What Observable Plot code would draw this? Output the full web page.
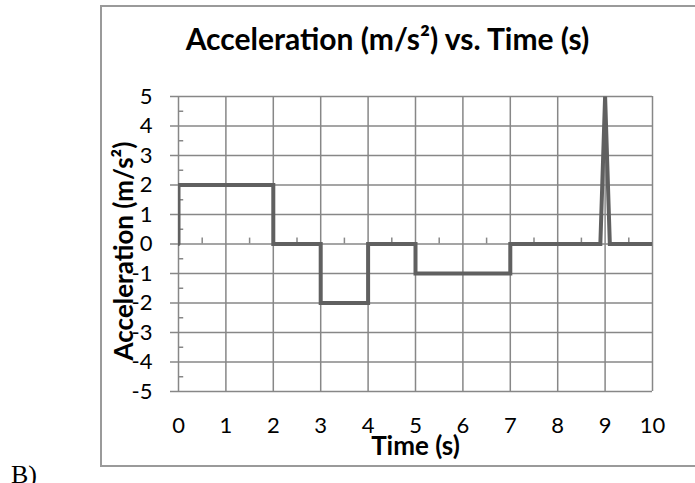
<!DOCTYPE html>
<html>
<head>
<meta charset="utf-8">
<script src="https://cdn.jsdelivr.net/npm/d3@7"></script>
<script src="https://cdn.jsdelivr.net/npm/@observablehq/plot@0.6"></script>
<style>
  html, body { margin: 0; padding: 0; background: #fff; }
  #wrap { position: relative; width: 695px; height: 483px; overflow: hidden; background: #fff; }
  #border { position: absolute; left: 100px; top: 5px; width: 620px; height: 458px; border: 2px solid #9a9a9a; box-sizing: content-box; }
  #chart { position: absolute; left: 0; top: 0; }
  #tag { position: absolute; left: 11px; top: 462px; font-family: "Liberation Serif", "DejaVu Serif", serif; font-size: 26px; line-height: 1; color: #000; }
</style>
</head>
<body>
<div id="wrap">
  <div id="border"></div>
  <div id="chart"></div>
  <div id="tag">B)</div>
</div>
<script>
const times = [0, 0, 2, 2, 3, 3, 4, 4, 5, 5, 7, 7, 8.9, 9, 9.1, 10];
const accel = [0, 2, 2, 0, 0, -2, -2, 0, 0, -1, -1, 0, 0, 5, 0, 0];
const xTicks = [0, 1, 2, 3, 4, 5, 6, 7, 8, 9, 10];
const yTicks = [-5, -4, -3, -2, -1, 0, 1, 2, 3, 4, 5];
const xMinor = [0.5, 1.5, 2.5, 3.5, 4.5, 5.5, 6.5, 7.5, 8.5, 9.5];
const yMinor = [-4.5, -3.5, -2.5, -1.5, -0.5, 0.5, 1.5, 2.5, 3.5, 4.5];
const chartTitle = "Acceleration (m/s²) vs. Time (s)";
const xLabel = "Time (s)";
const yLabel = "Acceleration (m/s²)";

const data = times.map((t, i) => ({t, a: accel[i]}));
const gridColor = "#878787";
const font = "Lato, 'Open Sans', sans-serif";

const chart = Plot.plot({
  width: 695,
  height: 483,
  marginLeft: 178,
  marginRight: 43,
  marginTop: 96,
  marginBottom: 92,
  x: {domain: [0, 10]},
  y: {domain: [-5, 5]},
  style: {fontFamily: font, fontSize: "22px", color: "#000", background: "transparent"},
  marks: [
    Plot.gridX(xTicks, {stroke: gridColor, strokeOpacity: 1, strokeWidth: 1.5}),
    Plot.gridY(yTicks, {stroke: gridColor, strokeOpacity: 1, strokeWidth: 1.5}),
    Plot.axisY(yTicks, {tickSize: 8, tickPadding: 18, stroke: gridColor, strokeWidth: 1.5, fill: "#000", fontSize: 22, label: null, tickFormat: d => String(d).replace("−", "-")}),
    Plot.axisX(xTicks, {tickSize: 0, tickPadding: 26, fill: "#000", fontSize: 22, label: null}),
    Plot.ruleX(xMinor, {x: d => d, y1: 0, y2: 0.2, stroke: gridColor, strokeWidth: 1.5}),
    Plot.ruleY(yMinor, {y: d => d, x1: 0, x2: 0.11, stroke: gridColor, strokeWidth: 1.5}),
    Plot.line(data, {x: "t", y: "a", stroke: "#606060", strokeWidth: 4, strokeLinejoin: "miter", strokeMiterlimit: 2, clip: true}),
    Plot.text([chartTitle], {frameAnchor: "top", dx: -28, dy: -56, lineAnchor: "middle", textAnchor: "middle", fontWeight: "bold", fontSize: 30, fill: "#000"}),
    Plot.text([xLabel], {frameAnchor: "bottom", dy: 55, lineAnchor: "middle", textAnchor: "middle", fontWeight: "bold", fontSize: 26, fill: "#000"}),
    Plot.text([yLabel], {frameAnchor: "left", dx: -54, dy: 7, rotate: -90, lineAnchor: "middle", textAnchor: "middle", fontWeight: "bold", fontSize: 26, fill: "#000"})
  ]
});
document.getElementById("chart").appendChild(chart);
</script>
</body>
</html>
